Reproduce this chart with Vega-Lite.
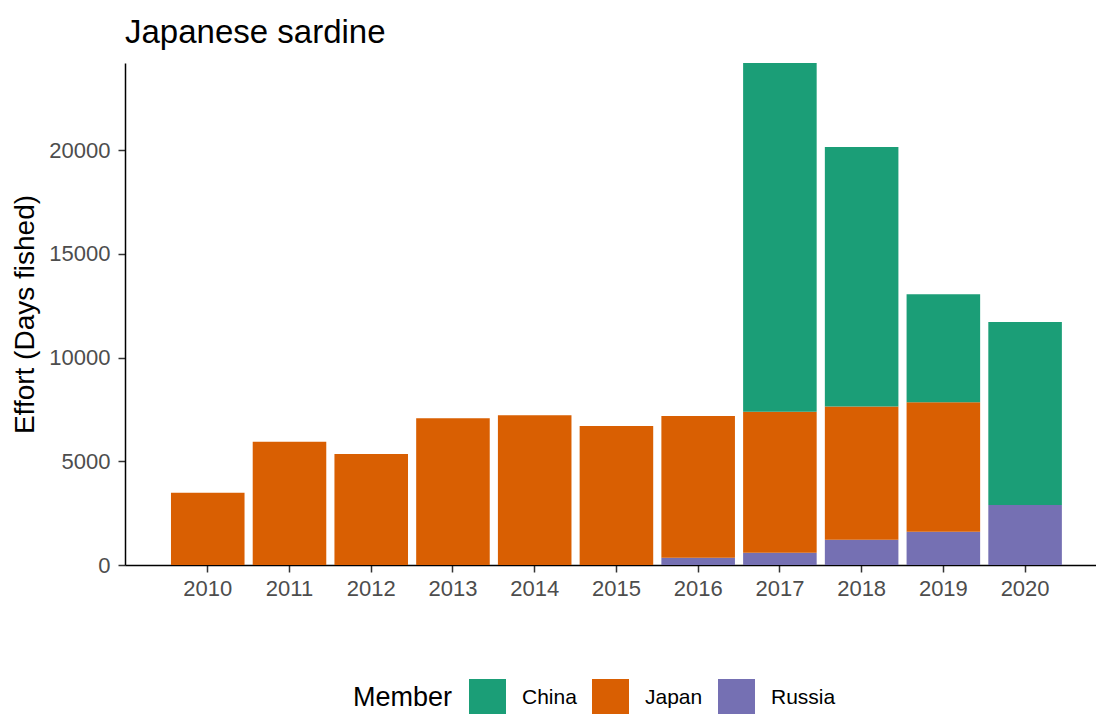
{
  "$schema": "https://vega.github.io/schema/vega-lite/v6.json",
  "autosize": {"type": "none"},
  "padding": {"left": 125, "top": 63, "right": 0, "bottom": 149},
  "width": 971,
  "height": 502,
  "background": "white",
  "title": {"text": "Japanese sardine", "anchor": "start", "font": "Liberation Sans", "fontSize": 33, "fontWeight": "normal", "color": "#000000", "offset": 13, "frame": "group"},
  "data": {"values": [
    {"Year": "2010", "Member": "Japan", "Effort": 3480},
    {"Year": "2011", "Member": "Japan", "Effort": 5940},
    {"Year": "2012", "Member": "Japan", "Effort": 5350},
    {"Year": "2013", "Member": "Japan", "Effort": 7070},
    {"Year": "2014", "Member": "Japan", "Effort": 7225},
    {"Year": "2015", "Member": "Japan", "Effort": 6695},
    {"Year": "2016", "Member": "Russia", "Effort": 350},
    {"Year": "2016", "Member": "Japan", "Effort": 6830},
    {"Year": "2017", "Member": "Russia", "Effort": 590},
    {"Year": "2017", "Member": "Japan", "Effort": 6795},
    {"Year": "2017", "Member": "China", "Effort": 16815},
    {"Year": "2018", "Member": "Russia", "Effort": 1215},
    {"Year": "2018", "Member": "Japan", "Effort": 6425},
    {"Year": "2018", "Member": "China", "Effort": 12510},
    {"Year": "2019", "Member": "Russia", "Effort": 1600},
    {"Year": "2019", "Member": "Japan", "Effort": 6240},
    {"Year": "2019", "Member": "China", "Effort": 5210},
    {"Year": "2020", "Member": "Russia", "Effort": 2890},
    {"Year": "2020", "Member": "China", "Effort": 8830}
  ]},
  "mark": {"type": "bar"},
  "encoding": {
    "x": {
      "field": "Year", "type": "ordinal",
      "scale": {"paddingInner": 0.1, "paddingOuter": 0.49, "align": 0.574},
      "axis": {"title": null, "labelAngle": 0, "labelFont": "Liberation Sans", "labelFontSize": 22, "labelColor": "#4D4D4D", "labelPadding": 6, "domainColor": "#000000", "domainWidth": 1.5, "tickColor": "#333333", "tickWidth": 1.5, "tickSize": 7, "grid": false}
    },
    "y": {
      "field": "Effort", "type": "quantitative", "aggregate": "sum", "stack": "zero",
      "scale": {"domain": [0, 24200], "nice": false, "zero": true},
      "axis": {"title": "Effort (Days fished)", "values": [0, 5000, 10000, 15000, 20000], "format": "d", "titleFont": "Liberation Sans", "titleFontSize": 28, "titleFontWeight": "normal", "titleColor": "#000000", "titlePadding": 9, "labelFont": "Liberation Sans", "labelFontSize": 22, "labelColor": "#4D4D4D", "labelPadding": 8, "domainColor": "#000000", "domainWidth": 1.5, "tickColor": "#333333", "tickWidth": 1.5, "tickSize": 7, "grid": false}
    },
    "color": {
      "field": "Member", "type": "nominal",
      "scale": {"domain": ["China", "Japan", "Russia"], "range": ["#1B9E77", "#D95F02", "#7570B3"]},
      "legend": {"orient": "none", "legendX": 228, "legendY": 616, "direction": "horizontal", "titleOrient": "left", "title": "Member", "titleFont": "Liberation Sans", "titleFontSize": 27, "titleFontWeight": "normal", "titleColor": "#000000", "titlePadding": 16, "titleBaseline": "middle", "labelFont": "Liberation Sans", "labelFontSize": 21, "labelColor": "#000000", "labelOffset": 16, "symbolType": "square", "symbolSize": 1369, "symbolStrokeWidth": 0, "symbolOpacity": 1, "columnPadding": 15}
    },
    "order": {"field": "Member", "sort": "descending"}
  },
  "config": {"view": {"stroke": null}}
}
